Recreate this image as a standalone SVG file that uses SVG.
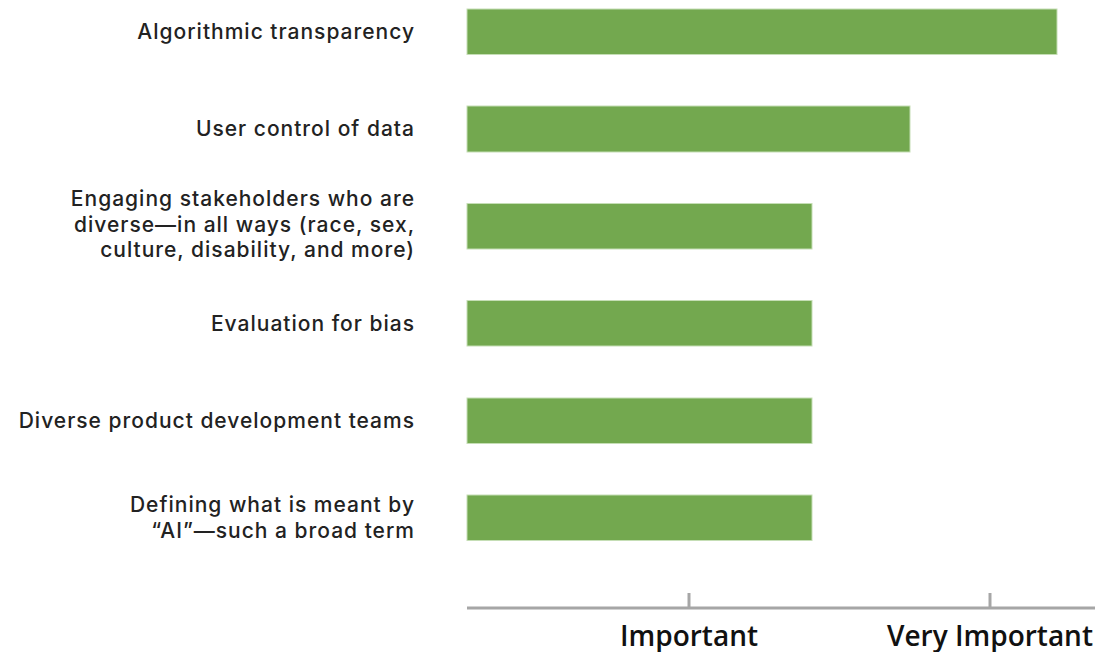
<svg xmlns="http://www.w3.org/2000/svg" width="1100" height="652" viewBox="0 0 1100 652">
<style>
.bar{fill:#73a84f;stroke:#c5deb5;stroke-width:1}
.lbl{font-family:Inter,"Noto Sans",sans-serif;font-weight:500;font-size:21px;letter-spacing:1px;fill:#222;text-anchor:end}
.ax{stroke:#a6a6a6;stroke-width:3;fill:none}
.axl{font-family:"Open Sans","Noto Sans",sans-serif;font-weight:600;font-size:28px;fill:#111;text-anchor:middle}
</style>
<rect width="1100" height="652" fill="#fff"/>
<g id="row1"><rect class="bar" x="467" y="9" width="590" height="45.5"/><text class="lbl" x="415" y="39">Algorithmic transparency</text></g>
<g id="row2"><rect class="bar" x="467" y="106" width="443" height="46"/><text class="lbl" x="415" y="136">User control of data</text></g>
<g id="row3"><rect class="bar" x="467" y="203.5" width="345" height="45.5"/><text class="lbl" x="415" y="206">Engaging stakeholders who are</text><text class="lbl" x="415" y="231.5">diverse—in all ways (race, sex,</text><text class="lbl" x="415" y="257">culture, disability, and more)</text></g>
<g id="row4"><rect class="bar" x="467" y="300.5" width="345" height="45.5"/><text class="lbl" x="415" y="331">Evaluation for bias</text></g>
<g id="row5"><rect class="bar" x="467" y="398" width="345" height="45.5"/><text class="lbl" x="415" y="428">Diverse product development teams</text></g>
<g id="row6"><rect class="bar" x="467" y="495" width="345" height="45.5"/><text class="lbl" x="415" y="512">Defining what is meant by</text><text class="lbl" x="415" y="538">“AI”—such a broad term</text></g>
<g id="axis">
<line class="ax" x1="467" y1="608" x2="1095" y2="608"/>
<line class="ax" x1="689" y1="593" x2="689" y2="608"/>
<line class="ax" x1="990" y1="593" x2="990" y2="608"/>
<text class="axl" x="689" y="646">Important</text>
<text class="axl" x="990" y="646">Very Important</text>
</g>
</svg>
